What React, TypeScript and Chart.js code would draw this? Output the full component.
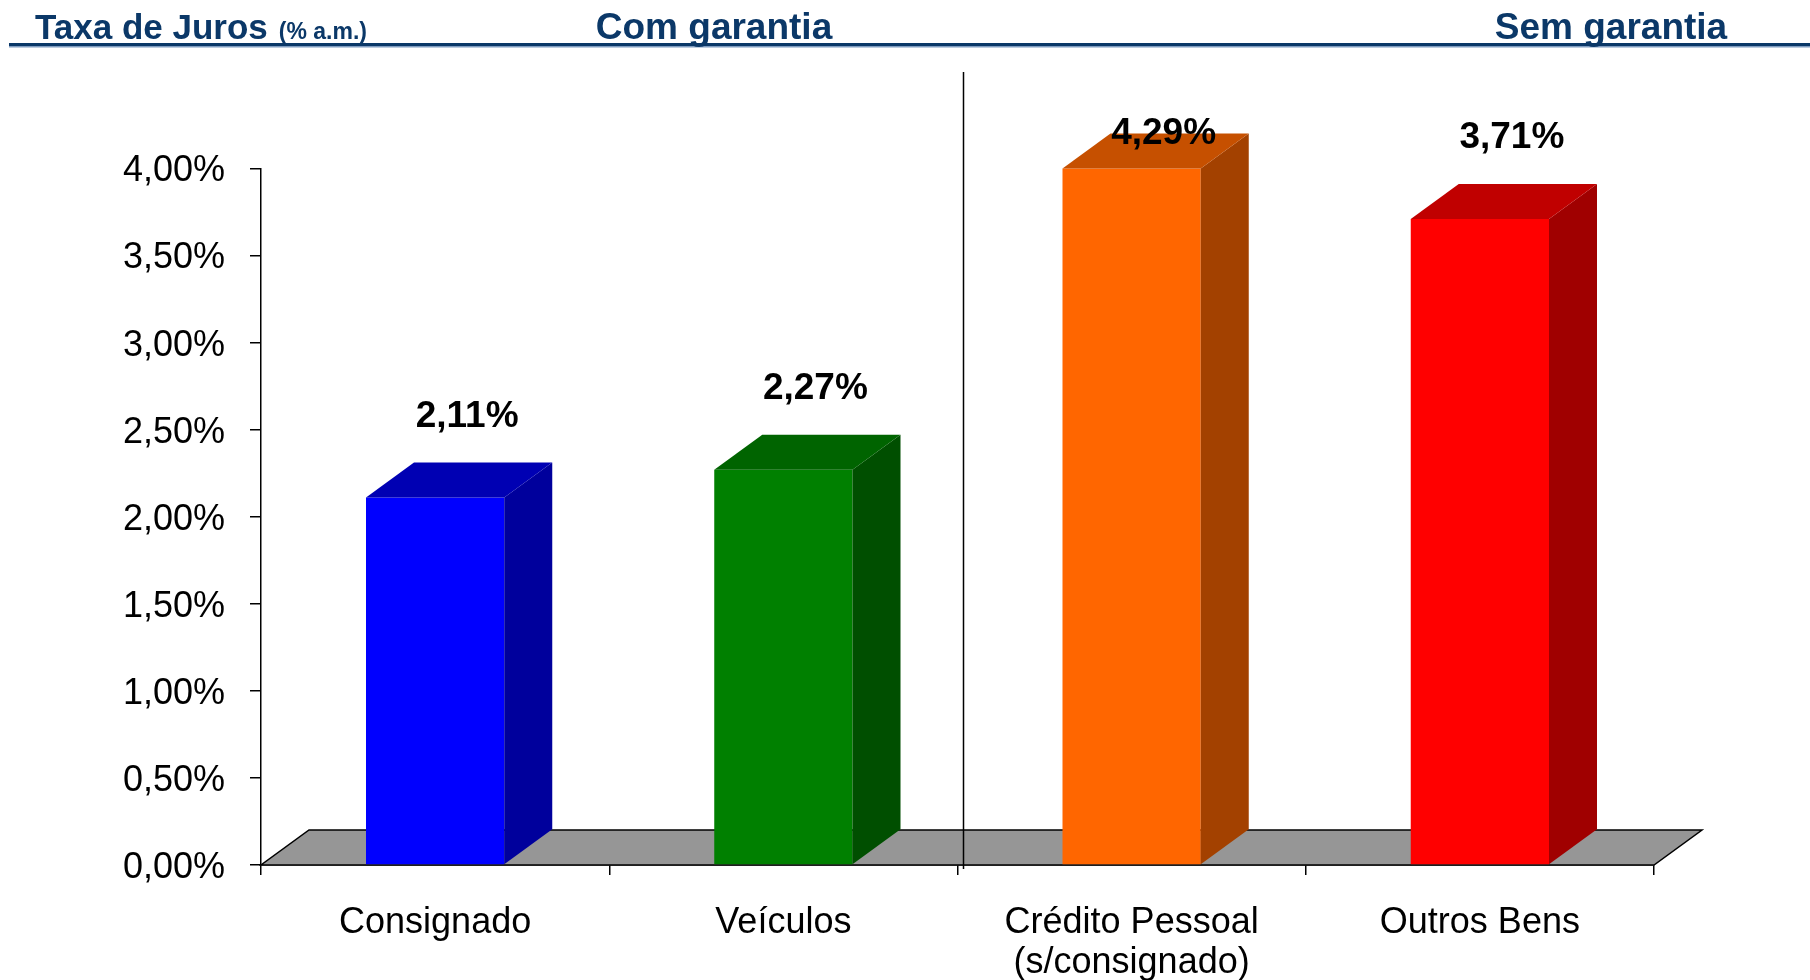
import React, { useEffect, useRef } from 'react';
import { Chart, registerables } from 'chart.js';

Chart.register(...registerables);

// ---- data ----
const categories: string[][] = [['Consignado'], ['Veículos'], ['Crédito Pessoal', '(s/consignado)'], ['Outros Bens']];
const rates: number[] = [2.11, 2.27, 4.29, 3.71];
const rateLabels: string[] = ['2,11%', '2,27%', '4,29%', '3,71%'];
const frontColors: string[] = ['#0000FF', '#008000', '#FF6600', '#FF0000'];
const topColors: string[] = ['#0000B3', '#006400', '#C65000', '#C00000'];
const sideColors: string[] = ['#00009C', '#004F00', '#A34100', '#A00000'];
const yMin = 0;
const yMax = 4;
const yStep = 0.5;
const headerLeft = 'Taxa de Juros';
const headerUnit = '(% a.m.)';
const groupTitles: string[] = ['Com garantia', 'Sem garantia'];

const FONT = '"Liberation Sans", Arial, sans-serif';
const NAVY = '#0B3868';
const DX = 48;
const DY = 35;

const fmtPct = (v: number) => v.toFixed(2).replace('.', ',') + '%';

const threeD = {
  id: 'threeD',
  beforeDatasetsDraw(chart: any) {
    const { ctx, chartArea } = chart;
    const l = chartArea.left, r = chartArea.right, b = chartArea.bottom;
    ctx.save();
    ctx.beginPath();
    ctx.moveTo(l, b);
    ctx.lineTo(r, b);
    ctx.lineTo(r + DX, b - DY);
    ctx.lineTo(l + DX, b - DY);
    ctx.closePath();
    ctx.fillStyle = '#969696';
    ctx.fill();
    ctx.strokeStyle = '#000';
    ctx.lineWidth = 1.5;
    ctx.stroke();
    ctx.restore();
  },
  afterDatasetsDraw(chart: any) {
    const { ctx, chartArea } = chart;
    const meta = chart.getDatasetMeta(0);
    ctx.save();
    meta.data.forEach((bar: any, i: number) => {
      const w = bar.width;
      const xl = bar.x - w / 2;
      const xr = bar.x + w / 2;
      const top = Math.max(bar.y, chartArea.top);
      const base = bar.base;
      // side face
      ctx.beginPath();
      ctx.moveTo(xr, top);
      ctx.lineTo(xr + DX, top - DY);
      ctx.lineTo(xr + DX, base - DY);
      ctx.lineTo(xr, base);
      ctx.closePath();
      ctx.fillStyle = sideColors[i];
      ctx.fill();
      // top face
      ctx.beginPath();
      ctx.moveTo(xl, top);
      ctx.lineTo(xl + DX, top - DY);
      ctx.lineTo(xr + DX, top - DY);
      ctx.lineTo(xr, top);
      ctx.closePath();
      ctx.fillStyle = topColors[i];
      ctx.fill();
    });
    // value labels
    ctx.fillStyle = '#000';
    ctx.font = `bold 37px ${FONT}`;
    ctx.textAlign = 'center';
    ctx.textBaseline = 'middle';
    meta.data.forEach((bar: any, i: number) => {
      const top = Math.max(bar.y, chartArea.top);
      const y = Math.max(top - DY - 46, chartArea.top - 35);
      ctx.fillText(rateLabels[i], bar.x + DX / 2 + 8, y);
    });
    ctx.restore();
  },
  afterDraw(chart: any) {
    const { ctx, chartArea } = chart;
    const xs = chart.scales.x;
    ctx.save();
    // divider between groups
    const boundary = (xs.getPixelForValue(1) + xs.getPixelForValue(2)) / 2 + 6;
    ctx.strokeStyle = '#000';
    ctx.lineWidth = 1.5;
    ctx.beginPath();
    ctx.moveTo(boundary, 72);
    ctx.lineTo(boundary, chartArea.bottom + 4);
    ctx.stroke();
    // header
    ctx.fillStyle = NAVY;
    ctx.fillRect(9, 43, 1801, 3);
    ctx.fillStyle = '#7F9CC0';
    ctx.fillRect(9, 46, 1801, 1.5);
    ctx.fillStyle = NAVY;
    ctx.textBaseline = 'alphabetic';
    ctx.textAlign = 'left';
    ctx.font = `bold 35px ${FONT}`;
    ctx.fillText(headerLeft, 35, 39);
    const w = ctx.measureText(headerLeft).width;
    ctx.font = `bold 23px ${FONT}`;
    ctx.fillText(headerUnit, 35 + w + 11, 39);
    ctx.font = `bold 37px ${FONT}`;
    ctx.textAlign = 'center';
    ctx.fillText(groupTitles[0], 714, 39);
    ctx.fillText(groupTitles[1], 1611, 39);
    ctx.restore();
  },
};

export default function App() {
  const ref = useRef<HTMLCanvasElement>(null);
  useEffect(() => {
    if (!ref.current) return;
    const chart = new Chart(ref.current, {
      type: 'bar',
      data: {
        labels: categories,
        datasets: [
          {
            data: rates,
            backgroundColor: frontColors,
            borderWidth: 0,
            barPercentage: 1,
            categoryPercentage: 0.397,
          },
        ],
      },
      options: {
        responsive: false,
        animation: false,
        events: [],
        layout: { padding: { top: 168.5, right: 156, left: 0, bottom: 0 } },
        plugins: {
          legend: { display: false },
          tooltip: { enabled: false },
          title: { display: false },
        },
        scales: {
          x: {
            grid: { drawOnChartArea: false, drawTicks: true, tickLength: 10, color: '#000', lineWidth: 1.5, offset: true },
            border: { display: true, color: '#000', width: 1.5 },
            ticks: { color: '#000', font: { family: FONT, size: 36, lineHeight: 1.12 }, padding: 27.5, maxRotation: 0, autoSkip: false },
            afterFit: (s: any) => { s.height = 115; },
          },
          y: {
            min: yMin,
            max: yMax,
            grid: { drawOnChartArea: false, drawTicks: true, tickLength: 11, color: '#000', lineWidth: 1.5 },
            border: { display: true, color: '#000', width: 1.5 },
            ticks: {
              stepSize: yStep,
              color: '#000',
              padding: 25,
              labelOffset: 3,
              font: { family: FONT, size: 36 },
              callback: (v: any) => fmtPct(Number(v)),
            },
            afterFit: (s: any) => { s.width = 261; },
          },
        },
      },
      plugins: [threeD],
    });
    return () => chart.destroy();
  }, []);
  return (
    <div style={{ position: 'fixed', left: 0, top: 0, width: 1810, height: 980, background: '#fff' }}>
      <canvas ref={ref} width={1810} height={980} style={{ display: 'block' }} />
    </div>
  );
}
